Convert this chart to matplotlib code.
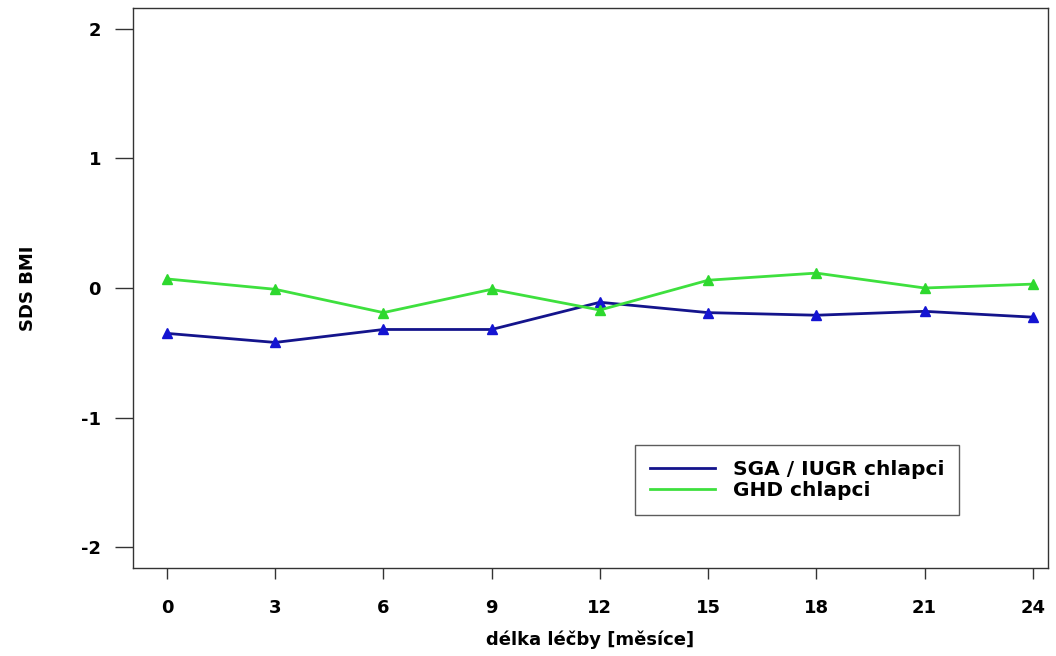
import matplotlib
matplotlib.use("Agg")
import matplotlib.pyplot as plt

months = [0, 3, 6, 9, 12, 15, 18, 21, 24]
sga_iugr = [-0.35, -0.42, -0.32, -0.32, -0.11, -0.19, -0.21, -0.18, -0.225]
ghd = [0.07, -0.01, -0.19, -0.01, -0.17, 0.06, 0.115, 0.0, 0.03]
y_ticks = [-2, -1, 0, 1, 2]

plt.rcParams['font.family'] = ['DejaVu Sans']
plt.rcParams['axes.unicode_minus'] = False

fig = plt.figure(figsize=(10.56, 6.56), dpi=100)
ax = fig.add_axes([133 / 1056, 1 - 568 / 656, (1048 - 133) / 1056, (568 - 8) / 656])

ax.plot(months, sga_iugr, color='#14148c', lw=2, marker='^', ms=7,
        mfc='#1414d2', mec='#1414d2', label='SGA / IUGR chlapci')
ax.plot(months, ghd, color='#3ee03e', lw=2, marker='^', ms=7,
        mfc='#2ed82e', mec='#2ed82e', label='GHD chlapci')

ax.set_xlim(-0.94, 24.42)
ax.set_ylim(-2.16, 2.16)
ax.set_xticks(months)
ax.set_yticks(y_ticks)
ax.tick_params(direction='out', width=1, colors='#333333', labelcolor='black',
               labelsize=13)
ax.tick_params(axis='x', length=8, pad=14)
ax.tick_params(axis='y', length=13, pad=10)
for lbl in ax.get_xticklabels() + ax.get_yticklabels():
    lbl.set_fontweight('bold')

for s in ax.spines.values():
    s.set_linewidth(1)
    s.set_color('#333333')

ax.set_xlabel('délka léčby [měsíce]', fontsize=13, fontweight='bold', labelpad=10)
ax.set_ylabel('SDS BMI', fontsize=13, fontweight='bold')
ax.yaxis.set_label_coords((37 - 133) / 915, 0.5)

leg = ax.legend(loc='upper left', bbox_to_anchor=((635 - 133) / 915, 1 - (445 - 8) / 560),
                borderaxespad=0, frameon=True, fancybox=False, edgecolor='#333333',
                handlelength=3.2, handletextpad=0.9, borderpad=0.75, labelspacing=0.1,
                prop={'weight': 'bold', 'size': 14.5})
leg.get_frame().set_linewidth(1)
for h in leg.get_lines():
    h.set_marker('')

fig.savefig('out.png', dpi=100)
